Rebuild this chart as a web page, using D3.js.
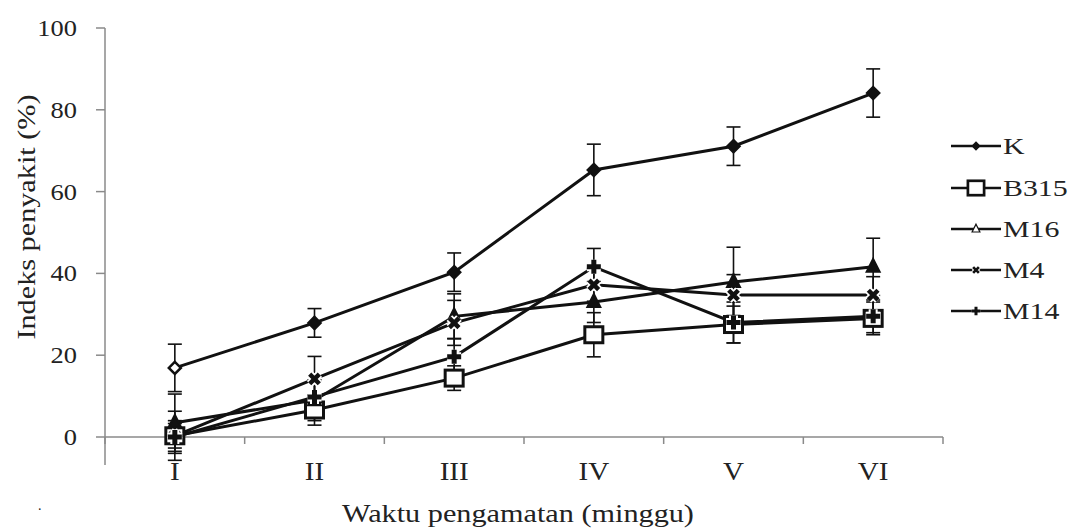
<!DOCTYPE html>
<html><head><meta charset="utf-8">
<script src="https://cdn.jsdelivr.net/npm/d3@7"></script>
<style>body{margin:0;background:#fff}svg{display:block}text{font-family:"Liberation Serif","Times New Roman",serif;fill:#222}</style>
</head><body><svg id="c" width="1070" height="532"></svg>
<script>
const categories = ["I","II","III","IV","V","VI"];
const seriesNames = ["K","B315","M16","M4","M14"];
const valK    = [16.9, 27.9, 40.3, 65.3, 71.1, 84.1];
const valB315 = [0.3, 6.6, 14.4, 25.0, 27.5, 29.0];
const valM16  = [3.5, 9.0, 29.5, 33.0, 37.9, 41.6];
const valM4   = [0.3, 14.2, 27.9, 37.2, 34.7, 34.7];
const valM14  = [0.0, 9.8, 19.6, 41.6, 28.0, 29.5];
const errK    = [5.8, 3.5, 4.7, 6.3, 4.7, 5.9];
const errB315 = [3.0, 3.7, 3.0, 5.4, 4.5, 4.0];
const errM16  = [7.0, 5.0, 5.5, 5.0, 8.5, 7.0];
const errM4   = [6.0, 5.5, 5.5, 4.0, 5.0, 4.5];
const errM14  = [4.0, 4.0, 4.5, 4.5, 5.0, 4.0];
const yTicks  = [0, 20, 40, 60, 80, 100];
const xTitle = "Waktu pengamatan (minggu)";
const yTitle = "Indeks penyakit (%)";

const vals = [valK, valB315, valM16, valM4, valM14];
const errs = [errK, errB315, errM16, errM4, errM14];
const markers = ["diamond","square","triangle","cross","plus"];

const svg = d3.select("#c");
const x = d3.scaleBand().domain(categories).range([105, 943]);
const y = d3.scaleLinear().domain([0, 100]).range([437, 28]);
const cx = c => x(c) + x.bandwidth()/2;

function label(px, py, str, size, sx, anchor, rot){
  return svg.append("text")
    .attr("transform", `translate(${px},${py})` + (rot ? ` rotate(${rot})` : "") + ` scale(${sx},1)`)
    .attr("text-anchor", anchor).attr("font-size", size).text(str);
}

// axes
const axCol = "#8a8a8a";
svg.append("line").attr("x1",105).attr("x2",105).attr("y1",28).attr("y2",465).attr("stroke",axCol).attr("stroke-width",1.5);
svg.append("line").attr("x1",105).attr("x2",943).attr("y1",y(0)).attr("y2",y(0)).attr("stroke",axCol).attr("stroke-width",1.5);
yTicks.forEach(t => {
  svg.append("line").attr("x1",96).attr("x2",105).attr("y1",y(t)).attr("y2",y(t)).attr("stroke",axCol).attr("stroke-width",1.5);
  label(77, y(t) + 8, t, 23, 1.15, "end");
});
const xt = x.domain().map(d => x(d)).concat([943]);
xt.forEach(p => svg.append("line").attr("x1",p).attr("x2",p).attr("y1",y(0)).attr("y2",y(0)+7).attr("stroke",axCol).attr("stroke-width",1.5));
categories.forEach(c => label(cx(c), 480, c, 26, 1.12, "middle"));
label(518, 522, xTitle, 25, 1.21, "middle");
label(35, 217, yTitle, 25, 1.21, "middle", -90);
svg.append("text").attr("x",38).attr("y",510).attr("font-size",14).text(".");

function drawMarker(g, type, px, py, scale, hollow){
  const s = scale;
  if (type === "diamond") {
    g.append("path").attr("d",`M${px},${py-6*s}L${px+6*s},${py}L${px},${py+6*s}L${px-6*s},${py}Z`)
      .attr("fill", hollow ? "#fff" : "#111").attr("stroke","#111").attr("stroke-width",2.5*s);
  } else if (type === "square") {
    g.append("rect").attr("x",px-9*s).attr("y",py-8*s).attr("width",18*s).attr("height",16*s)
      .attr("fill","#fff").attr("stroke","#111").attr("stroke-width",3*s);
  } else if (type === "triangle") {
    g.append("path").attr("d",`M${px},${py-8*s}L${px+6.5*s},${py+5*s}L${px-6.5*s},${py+5*s}Z`)
      .attr("fill", hollow ? "#fff" : "#111").attr("stroke","#111").attr("stroke-width",2*s);
  } else if (type === "cross") {
    const d = 4.8*s;
    g.append("path").attr("d",`M${px-d},${py-d}L${px+d},${py+d}M${px+d},${py-d}L${px-d},${py+d}`)
      .attr("stroke","#fff").attr("stroke-width",8*s);
    g.append("path").attr("d",`M${px-d},${py-d}L${px+d},${py+d}M${px+d},${py-d}L${px-d},${py+d}`)
      .attr("stroke","#111").attr("stroke-width",4.5*s);
  } else if (type === "plus") {
    const d = 7*s;
    g.append("path").attr("d",`M${px-d},${py}L${px+d},${py}M${px},${py-d}L${px},${py+d}`)
      .attr("stroke","#fff").attr("stroke-width",9*s);
    g.append("path").attr("d",`M${px-d},${py}L${px+d},${py}M${px},${py-d}L${px},${py+d}`)
      .attr("stroke","#111").attr("stroke-width",5*s);
  }
}

const line = d3.line().x((d,i) => cx(categories[i])).y(d => y(d));
const plot = svg.append("g");
vals.forEach((v, si) => {
  v.forEach((d, i) => {
    const px = cx(categories[i]), e = errs[si][i];
    const g = plot.append("g").attr("stroke","#111").attr("stroke-width",1.6);
    g.append("line").attr("x1",px).attr("x2",px).attr("y1",y(d-e)).attr("y2",y(d+e));
    g.append("line").attr("x1",px-7).attr("x2",px+7).attr("y1",y(d-e)).attr("y2",y(d-e));
    g.append("line").attr("x1",px-7).attr("x2",px+7).attr("y1",y(d+e)).attr("y2",y(d+e));
  });
});
vals.forEach(v => plot.append("path").datum(v).attr("d",line).attr("fill","none").attr("stroke","#111").attr("stroke-width",3));
vals.forEach((v, si) => v.forEach((d, i) => drawMarker(plot, markers[si], cx(categories[i]), y(d), 1, si===0 && i===0)));

// legend
const legY = [146, 188, 229, 270, 311];
const lg = svg.append("g");
seriesNames.forEach((n, i) => {
  lg.append("line").attr("x1",951).attr("x2",1001).attr("y1",legY[i]).attr("y2",legY[i]).attr("stroke","#111").attr("stroke-width",2.5);
  const sc = markers[i] === "square" ? 0.9 : 0.6;
  drawMarker(lg, markers[i], 976, legY[i], sc, markers[i]==="triangle");
  label(1003, legY[i] + 8, n, 23, 1.3, "start");
});
</script></body></html>
